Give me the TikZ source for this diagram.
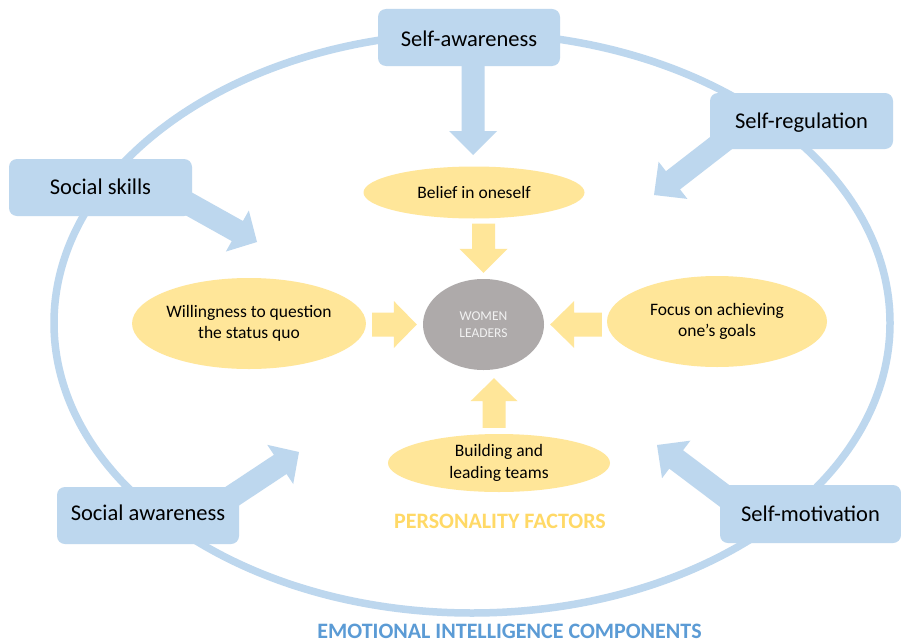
\documentclass[tikz,border=0pt]{standalone}
\usepackage{fontspec}
\setmainfont{Carlito}
\usetikzlibrary{calc,shapes.geometric}

\definecolor{eiblue}{HTML}{BDD7EE}
\definecolor{eitext}{HTML}{5B9BD5}
\definecolor{pfyellow}{HTML}{FFE699}
\definecolor{pftext}{HTML}{FFD966}
\definecolor{wlgrey}{HTML}{AEAAAA}
\definecolor{wltext}{HTML}{F2F2F2}

% Block arrow: #1 fill style, #2 start, #3 tip,
% #4 shaft half width, #5 head half width, #6 head length
\newcommand\blockarrow[6]{%
  \coordinate (babase) at ($(#3)!#6!(#2)$);
  \fill[#1] ($(#2)!#4!90:(#3)$) -- ($(babase)!#4!90:(#3)$)
    -- ($(babase)!#5!90:(#3)$) -- (#3)
    -- ($(babase)!#5!-90:(#3)$) -- ($(babase)!#4!-90:(#3)$)
    -- ($(#2)!#4!-90:(#3)$) -- cycle;
}

\begin{document}
\begin{tikzpicture}[x=1pt,y=-1pt,
  compbox/.style={rectangle, rounded corners=8pt, fill=eiblue, inner sep=0pt,
    minimum width=182pt, minimum height=57pt, text=black,
    text height=14.4pt, text depth=0pt,
    font=\fontsize{22.5}{27}\selectfont},
  factor/.style={ellipse, fill=pfyellow, inner sep=0pt, align=center, text=black,
    font=\fontsize{17.5}{21.5}\selectfont},
  core/.style={ellipse, fill=wlgrey, inner sep=0pt, align=center, text=wltext,
    font=\fontsize{13.5}{17}\selectfont},
  blueblock/.style={fill=eiblue},
  yellowblock/.style={fill=pfyellow},
  caption/.style={inner sep=0pt, font=\fontsize{22}{26}\selectfont\bfseries}]

\path[use as bounding box] (0,0) rectangle (901,642);
\fill[white] (0,0) rectangle (901,642);

% outer ring of emotional intelligence components
\draw[eiblue, line width=7.5pt] (472,323) ellipse [x radius=418, y radius=290];

% personality factors and the core
\node[core, minimum width=121pt, minimum height=91pt] (women) at (483.5,324.5) {WOMEN\\LEADERS};
\node[factor, minimum width=221pt, minimum height=52pt] (belief) at (474,192.5) {Belief in oneself};
\node[factor, minimum width=222pt, minimum height=91pt] (willing) at (249,323.5) {Willingness to question\\the status quo};
\node[factor, minimum width=220pt, minimum height=91pt] (focus) at (717,321.5) {Focus on achieving\\one's goals};
\node[factor, minimum width=222pt, minimum height=58pt] (building) at (499,463) {Building and\\leading teams};

% yellow arrows into the core
\coordinate (y1s) at ($(belief.south -| women.center)+(0,5)$);
\coordinate (y1t) at ($(women.north)+(0,-6)$);
\coordinate (y2s) at ($(willing.east |- women.center)+(6,0)$);
\coordinate (y2t) at ($(women.west)+(-6,0)$);
\coordinate (y3s) at ($(focus.west |- women.center)+(-5,0)$);
\coordinate (y3t) at ($(women.east)+(6,0)$);
\coordinate (y4s) at ($(building.north)+(-5,-6)$);
\coordinate (y4t) at ($(y4s |- women.south)+(0,8)$);
\blockarrow{yellowblock}{y1s}{y1t}{11.5pt}{24pt}{24pt}
\blockarrow{yellowblock}{y2s}{y2t}{12pt}{23.5pt}{23pt}
\blockarrow{yellowblock}{y3s}{y3t}{12pt}{23.5pt}{24pt}
\blockarrow{yellowblock}{y4s}{y4t}{11.5pt}{23.5pt}{23pt}

% centres of the component boxes
\path (469,37.5) coordinate (sa-c) (801.5,121) coordinate (sr-c)
      (100.5,187.5) coordinate (ss-c) (148,515.5) coordinate (saw-c)
      (810.5,514) coordinate (sm-c);

% blue arrows from the components
\coordinate (t1) at (473,155);
\coordinate (s1) at (sa-c -| t1);
\coordinate (s2) at ($(sr-c)+(-76.5,19)$);
\coordinate (t2) at (654,195);
\coordinate (s3) at ($(ss-c)+(79.5,11.5)$);
\coordinate (t3) at (257,242);
\coordinate (s4) at ($(saw-c)+(80,-16.5)$);
\coordinate (t4) at (299,452);
\coordinate (s5) at ($(sm-c)+(-80.5,-14)$);
\coordinate (t5) at (657,445);
\blockarrow{blueblock}{s1}{t1}{11.5pt}{24pt}{24pt}
\blockarrow{blueblock}{s2}{t2}{11.5pt}{23.5pt}{24pt}
\blockarrow{blueblock}{s3}{t3}{11.5pt}{23.5pt}{22.5pt}
\blockarrow{blueblock}{s4}{t4}{11.5pt}{23.5pt}{22.5pt}
\blockarrow{blueblock}{s5}{t5}{11.5pt}{23.5pt}{24pt}

\node[compbox, text height=18.4pt] (sa) at (sa-c) {Self-awareness};
\node[compbox, minimum width=183pt, minimum height=56pt] (sr) at (sr-c) {Self-regulation};
\node[compbox, minimum width=183pt] (ss) at (ss-c) {Social skills};
\node[compbox, text depth=4pt] (saw) at (saw-c) {Social awareness};
\node[compbox, minimum width=181pt, minimum height=58pt] (sm) at (sm-c) {Self-motivation};

% captions
\node[caption, text=pftext] (pf) at (500,521) {PERSONALITY FACTORS};
\node[caption, text=eitext] (ei) at (509.5,631) {EMOTIONAL INTELLIGENCE COMPONENTS};

\end{tikzpicture}
\end{document}
